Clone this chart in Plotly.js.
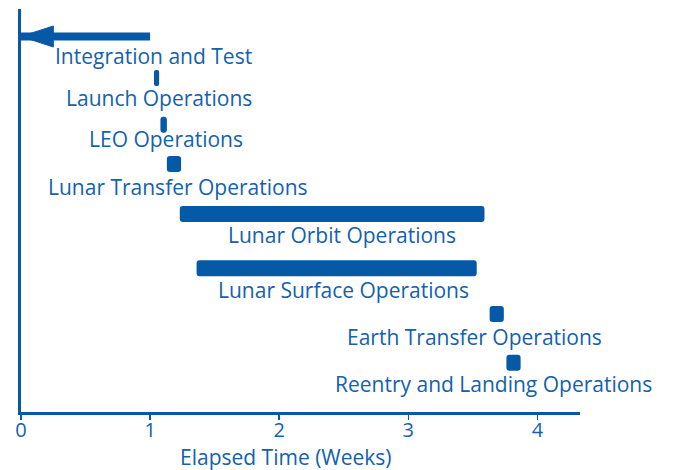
<!DOCTYPE html>
<html><head><meta charset="utf-8">
<script src="https://cdn.plot.ly/plotly-3.0.1.min.js"></script>
<style>html,body{margin:0;padding:0;background:#fff}#chart{width:673px;height:470px}</style>
</head><body><div id="chart"></div>
<script>
// ---- data ----
const tasks = ["Integration and Test","Launch Operations","LEO Operations","Lunar Transfer Operations","Lunar Orbit Operations","Lunar Surface Operations","Earth Transfer Operations","Reentry and Landing Operations"];
const startWeek = [1.00, 1.03, 1.08, 1.13, 1.23, 1.36, 3.63, 3.76];
const endWeek   = [0.00, 1.07, 1.13, 1.24, 3.59, 3.53, 3.74, 3.87];
const xTickVals = [0, 1, 2, 3, 4];
const xTickText = ["0", "1", "2", "3", "4"];
const xAxisTitle = "Elapsed Time (Weeks)";

// ---- layout / styling only ----
const labelX = [1.029, 1.070, 1.122, 1.219, 2.485, 2.501, 3.511, 3.657];
const rowNudgePx = [0, -5, -4.8, -12, -8.5, -0.7, -1.5, 0.7];
const labelDropPx = [19.5, 20, 14.3, 22.8, 20.5, 21.7, 22.7, 21.1];
const BLUE = "#0559a6";
const TXT = "#1461ad";
const FONT = "Open Sans, sans-serif";
const H = 470, T = 9, B = 58;
const yRange = [8.075, -0.591];
const pxPerRow = (H - T - B) / (yRange[0] - yRange[1]);
const barPx = 16;
const barW = barPx / pxPerRow;

const barIdx = tasks.map((t, i) => i).filter(i => endWeek[i] > startWeek[i]);
const arrowIdx = tasks.map((t, i) => i).filter(i => endWeek[i] < startWeek[i]);

const traces = [];
traces.push({
  type: "bar", orientation: "h",
  y: barIdx.map(i => tasks[i]),
  base: barIdx.map(i => startWeek[i]),
  x: barIdx.map(i => endWeek[i] - startWeek[i]),
  width: barW,
  offset: barIdx.map(i => -barW / 2 + rowNudgePx[i] / pxPerRow),
  marker: {color: BLUE, cornerradius: 3, line: {width: 0}},
  hoverinfo: "skip", showlegend: false
});
arrowIdx.forEach(i => {
  traces.push({
    type: "scatter", mode: "lines",
    x: [startWeek[i], endWeek[i]],
    y: [tasks[i], tasks[i]],
    line: {color: BLUE, width: 8, backoff: 20},
    cliponaxis: false, hoverinfo: "skip", showlegend: false
  });
  traces.push({
    type: "scatter", mode: "markers",
    x: [endWeek[i]],
    y: [tasks[i]],
    marker: {color: BLUE, opacity: 1, symbol: "arrow", size: 34, angle: -90, line: {width: 1, color: BLUE}},
    cliponaxis: false, hoverinfo: "skip", showlegend: false
  });
});

const annotations = tasks.map((t, i) => ({
  text: t, x: labelX[i], y: t, xref: "x", yref: "y",
  xanchor: "center", yanchor: "middle",
  yshift: -(rowNudgePx[i] + labelDropPx[i]),
  showarrow: false, font: {family: FONT, size: 21, color: TXT}
}));
annotations.push({
  text: xAxisTitle, x: 2.054, y: -0.112, xref: "x", yref: "paper",
  xanchor: "center", yanchor: "middle", showarrow: false,
  font: {family: FONT, size: 21, color: TXT}
});

const layout = {
  width: 673, height: H,
  margin: {l: 21, r: 93, t: T, b: B, pad: 0},
  paper_bgcolor: "#ffffff", plot_bgcolor: "#ffffff",
  showlegend: false,
  xaxis: {
    range: [0, 4.33], showline: true, linewidth: 3, linecolor: BLUE,
    ticks: "outside", ticklen: 5, tickwidth: 1.5, tickcolor: BLUE,
    tickmode: "array", tickvals: xTickVals, ticktext: xTickText,
    ticklabelstandoff: -7,
    tickfont: {family: FONT, size: 20, color: TXT},
    showgrid: false, zeroline: false, fixedrange: true
  },
  yaxis: {
    type: "category", categoryorder: "array", categoryarray: tasks,
    range: yRange, showline: true, linewidth: 3, linecolor: BLUE,
    showticklabels: false, ticks: "", showgrid: false, zeroline: false, fixedrange: true
  },
  annotations: annotations
};

Plotly.newPlot("chart", traces, layout, {displayModeBar: false, staticPlot: true});
</script>
</body></html>
